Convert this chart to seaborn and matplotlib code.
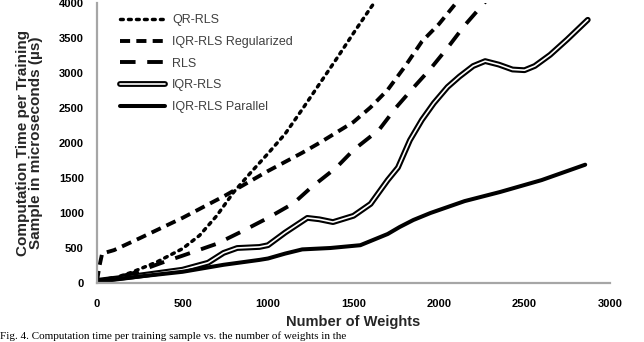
import numpy as np
import pandas as pd
import matplotlib
matplotlib.use('Agg')
import matplotlib.pyplot as plt
import matplotlib.patheffects as pe
import seaborn as sns

# ---- data ----
qr_x = [0, 100, 200, 350, 500, 600, 700, 800, 900, 1000, 1100, 1200, 1300, 1400, 1500, 1600, 1650]
qr_y = [30, 70, 150, 300, 490, 680, 960, 1300, 1580, 1850, 2130, 2480, 2840, 3200, 3570, 3930, 4100]

reg_x = [0, 15, 30, 100, 250, 500, 750, 1000, 1200, 1300, 1400, 1500, 1600, 1700, 1800, 1900, 2000, 2100, 2150]
reg_y = [30, 250, 420, 470, 640, 930, 1250, 1600, 1860, 2000, 2150, 2300, 2510, 2760, 3090, 3450, 3700, 4000, 4150]

rls_x = [0, 50, 200, 380, 500, 700, 850, 1000, 1150, 1250, 1400, 1500, 1650, 1750, 1850, 1950, 2050, 2150, 2250, 2300]
rls_y = [30, 50, 130, 290, 390, 560, 740, 930, 1140, 1360, 1650, 1900, 2190, 2510, 2790, 3060, 3360, 3680, 3960, 4100]

iqr_x = [0, 50, 200, 500, 650, 740, 820, 950, 1000, 1100, 1230, 1300, 1380, 1500, 1600, 1700, 1760, 1830,
         1900, 1970, 2050, 2120, 2200, 2270, 2350, 2430, 2500, 2560, 2650, 2750, 2870]
iqr_y = [30, 45, 90, 190, 290, 430, 500, 515, 540, 720, 930, 910, 870, 960, 1130, 1470, 1650, 2040,
         2330, 2570, 2800, 2950, 3100, 3170, 3120, 3050, 3040, 3100, 3260, 3480, 3760]

par_x = [0, 50, 200, 500, 740, 950, 1000, 1100, 1200, 1365, 1540, 1700, 1770, 1850, 1950, 2150, 2357, 2600, 2855]
par_y = [30, 40, 80, 160, 260, 330, 350, 420, 480, 500, 540, 700, 800, 900, 1000, 1170, 1300, 1470, 1690]

x_ticks = [0, 500, 1000, 1500, 2000, 2500, 3000]
y_ticks = [0, 500, 1000, 1500, 2000, 2500, 3000, 3500, 4000]

series_names = ["QR-RLS", "IQR-RLS Regularized", "RLS", "IQR-RLS", "IQR-RLS Parallel"]

x_label = "Number of Weights"
y_label = "Computation Time per Training\nSample in microseconds (\u00b5s)"
caption = "Fig. 4. Computation time per training sample vs. the number of weights in the"

# ---- figure ----
sns.set_theme(style='white')
plt.rcParams['font.family'] = ['Liberation Sans', 'DejaVu Sans']

fig = plt.figure(figsize=(6.44, 3.42), dpi=100)
ax = fig.add_axes([97/644, 1-283/342, 513/644, 280/342])

sns.lineplot(x=qr_x, y=qr_y, ax=ax, color='black', lw=2.5, linestyle=(0, (0.8, 1.5)),
             dash_capstyle='round', label=series_names[0], sort=False, errorbar=None)
sns.lineplot(x=reg_x, y=reg_y, ax=ax, color='black', lw=2.8, linestyle=(0, (2.6, 1.6)),
             label=series_names[1], sort=False, errorbar=None)
sns.lineplot(x=rls_x, y=rls_y, ax=ax, color='black', lw=2.8, linestyle=(0, (4.0, 3.0)),
             label=series_names[2], sort=False, errorbar=None)
sns.lineplot(x=iqr_x, y=iqr_y, ax=ax, color='white', lw=1.2,
             path_effects=[pe.Stroke(linewidth=4.2, foreground='black'), pe.Normal()],
             label=series_names[3], sort=False, errorbar=None)
sns.lineplot(x=par_x, y=par_y, ax=ax, color='black', lw=2.9,
             label=series_names[4], sort=False, errorbar=None)

ax.set_xlim(0, 3000)
ax.set_ylim(0, 4000)
ax.set_xticks(x_ticks)
ax.set_yticks(y_ticks)
ax.set_xticklabels([str(t) for t in x_ticks])
ax.set_yticklabels([str(t) for t in y_ticks])

for s in ['top', 'right']:
    ax.spines[s].set_visible(False)
for s in ['left', 'bottom']:
    ax.spines[s].set_color('#a6a6a6')
    ax.spines[s].set_linewidth(1.6)
ax.tick_params(axis='both', direction='inout', length=7, width=1.2, color='#a6a6a6',
               labelsize=8, labelcolor='black')
ax.tick_params(axis='x', pad=8)
ax.tick_params(axis='y', pad=6)
for lab in ax.get_xticklabels() + ax.get_yticklabels():
    lab.set_fontweight('bold')

ax.set_xlabel(x_label, fontsize=10.5, fontweight='bold')
ax.set_ylabel(y_label, fontsize=11, fontweight='bold', linespacing=0.95)
ax.xaxis.set_label_coords(0.5, -0.115)
ax.yaxis.set_label_coords(-0.105, 0.5)

leg = ax.legend(loc='upper left', bbox_to_anchor=(0.045, 0.96), frameon=False,
                fontsize=9, handlelength=3.6, handletextpad=0.55, labelspacing=0.78,
                borderpad=0, borderaxespad=0)
for t in leg.get_texts():
    t.set_color('#404040')

fig.text(0.0, 0.003, caption, va='bottom', ha='left', fontsize=8,
         family='Liberation Serif', color='black')

fig.savefig('out.png', dpi=100)
